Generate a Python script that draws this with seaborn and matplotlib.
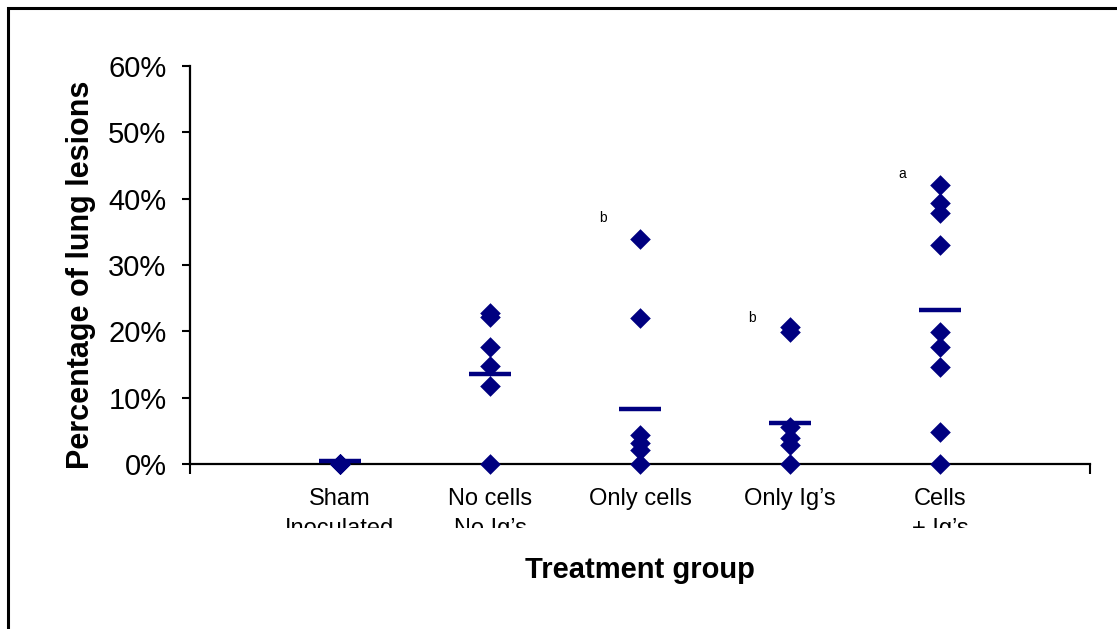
import matplotlib
matplotlib.use("Agg")
import matplotlib.pyplot as plt
import matplotlib.patches as patches
from matplotlib.transforms import Bbox
from matplotlib.ticker import FuncFormatter
import seaborn as sns
import pandas as pd

# Treatment groups (second line of labels is cut off in the original)
groups = ["Sham\nInoculated", "No cells\nNo Ig’s", "Only cells", "Only Ig’s", "Cells\n+ Ig’s"]

# Percentage of lung lesions per animal
sham = [0, 0, 0, 0, 0]
no_cells = [22.7, 22.1, 17.7, 14.8, 11.8, 0]
only_cells = [33.9, 22.0, 4.4, 3.2, 2.1, 0]
only_igs = [20.7, 19.9, 5.6, 3.9, 2.9, 0]
cells_igs = [42.1, 39.3, 37.8, 33.0, 19.9, 17.6, 14.6, 4.8, 0]

# group means (horizontal bars)
means = [0.4, 13.6, 8.3, 6.2, 23.2]

# significance letters
letters = ["", "", "b", "b", "a"]
letter_y = [0, 0, 37.1, 22.0, 43.7]

navy = "#000080"

rows = []
for g, vals in zip(groups, [sham, no_cells, only_cells, only_igs, cells_igs]):
    for v in vals:
        rows.append({"Treatment group": g, "Lesions": v})
df = pd.DataFrame(rows)

sns.set_style("white")
plt.rcParams["font.family"] = ["Liberation Sans", "DejaVu Sans"]
plt.rcParams["text.color"] = "black"
plt.rcParams["axes.labelcolor"] = "black"
plt.rcParams["xtick.color"] = "black"
plt.rcParams["ytick.color"] = "black"

fig = plt.figure(figsize=(11.17, 6.29), dpi=100)
ax = fig.add_axes([0.1701, 0.2623, 0.8057, 0.6328])

sns.stripplot(data=df, x="Treatment group", y="Lesions", order=groups,
              jitter=False, marker="D", size=10.5, color=navy, linewidth=0,
              clip_on=False, zorder=3, ax=ax)

xpos = list(range(len(groups)))
ax.hlines(means, [x - 0.14 for x in xpos], [x + 0.14 for x in xpos],
          colors=navy, linewidth=3.2, zorder=4, clip_on=False)

for x, lt, ly in zip(xpos, letters, letter_y):
    if lt:
        ax.text(x - 0.25, ly, lt, fontsize=10, ha="center", va="center", color="black")

ax.set_ylim(0, 60)
ax.set_xlim(-1, 5)
ax.set_yticks(range(0, 61, 10))
ax.yaxis.set_major_formatter(FuncFormatter(lambda v, p: f"{v:.0f}%"))
ax.set_xticks([-1, 5], labels=["", ""])
ax.set_xticks(xpos, labels=groups, minor=True)

ax.tick_params(axis="y", which="major", direction="out", length=6, width=1.5,
               pad=11, labelsize=21, left=True, colors="black")
ax.tick_params(axis="x", which="major", direction="out", length=7, width=1.5,
               bottom=True, colors="black")
ax.tick_params(axis="x", which="minor", length=0, pad=17, labelsize=17,
               labelcolor="black")

# clip the category labels the way the original image cuts them
clip = Bbox([[0, 629 - 528], [1117, 629]])
for t in ax.xaxis.get_minor_ticks():
    t.label1.set_clip_box(clip)
    t.label1.set_clip_on(True)
    t.label1.set_linespacing(1.5)

for side in ["top", "right"]:
    ax.spines[side].set_visible(False)
for side in ["left", "bottom"]:
    ax.spines[side].set_color("black")
    ax.spines[side].set_linewidth(1.6)

ax.set_ylabel("Percentage of lung lesions", fontsize=22, fontweight="bold", color="black")
ax.yaxis.set_label_coords(-0.105, 0.475)
ax.set_xlabel("Treatment group", fontsize=21, fontweight="bold", color="black")
ax.xaxis.set_label_coords(0.5, -0.232)

# outer chart frame (only left and top edges are inside the picture)
frame = patches.Rectangle((0.0072, -0.1), 1.2, 1.0873, transform=fig.transFigure,
                          fill=False, edgecolor="black", linewidth=2.2, clip_on=False)
fig.add_artist(frame)

fig.savefig("out.png", dpi=100)
plt.close()
